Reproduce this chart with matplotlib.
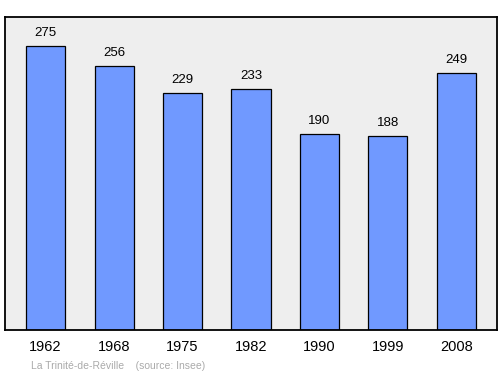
import matplotlib

matplotlib.use("Agg")
import matplotlib.pyplot as plt

years = ["1962", "1968", "1975", "1982", "1990", "1999", "2008"]
population = [275, 256, 229, 233, 190, 188, 249]
commune = "La Trinité-de-Réville"
source = "(source: Insee)"

plt.rcParams["font.family"] = ["Liberation Sans", "DejaVu Sans"]

fig = plt.figure(figsize=(5.0, 3.74), dpi=100)
ax = fig.add_axes([0.01, 0.1176, 0.984, 0.837])
ax.set_facecolor("#eeeeee")

x = list(range(len(years)))
ax.bar(x, population, width=0.57, color="#7099ff", edgecolor="black", linewidth=0.9)
for xi, v in zip(x, population):
    ax.annotate(str(v), (xi, v), xytext=(0, 5), textcoords="offset points",
                ha="center", va="bottom", fontsize=9.5)

ax.set_xlim(-0.592, 6.592)
ax.set_ylim(0, 303)
ax.set_xticks(x)
ax.set_xticklabels(years, fontsize=10.5)
ax.tick_params(axis="x", length=0, pad=7)
ax.set_yticks([])
for s in ax.spines.values():
    s.set_linewidth(1.3)

fig.text(0.062, 0.014, f"{commune}    {source}", fontsize=7.5, color="#aaaaaa")

fig.savefig("out.png", dpi=100)
